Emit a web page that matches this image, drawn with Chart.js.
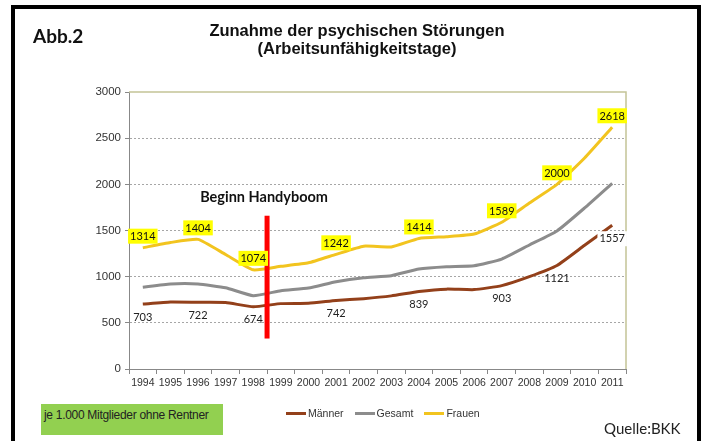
<!DOCTYPE html>
<html>
<head>
<meta charset="utf-8">
<script src="https://cdn.jsdelivr.net/npm/chart.js@4/dist/chart.umd.min.js"></script>
<style>
  body { margin: 0; background: #fff; }
  #wrap { position: relative; width: 702px; height: 441px; overflow: hidden; }
  #frame { position: absolute; left: 11px; top: 5px; width: 682px; height: 445px; border: 4px solid #000; }
  canvas { position: absolute; left: 0; top: 0; }
  .abb { position: absolute; left: 33px; top: 24px; font: bold 19px Lato, "Liberation Sans", sans-serif; color: #111; }
  .title { position: absolute; left: 157px; width: 400px; top: 21px; text-align: center;
           font: bold 16.5px "Liberation Sans", Arial, sans-serif; color: #111; line-height: 18px; }
  .note { position: absolute; left: 41px; top: 404px; width: 182px; height: 31px; background: #92d050;
          font: 12px "Liberation Sans", Arial, sans-serif; color: #222; box-sizing: border-box; padding: 4px 0 0 3px;
          letter-spacing: -0.3px; }
  .quelle { position: absolute; left: 604px; top: 419px; font: 15px Lato, sans-serif; color: #222; }
  #legend { position: absolute; left: 286px; top: 407px; font: 10.5px "Liberation Sans", Arial, sans-serif; color: #333; }
  #legend span.item { margin-right: 11px; }
  #legend i { display: inline-block; width: 20px; height: 3px; vertical-align: middle; margin-right: 2px; position: relative; top: -1px; }
</style>
</head>
<body>
<div id="wrap">
  <canvas id="mycanvas" width="702" height="441"></canvas>
  <div id="frame"></div>
  <div class="abb">Abb.2</div>
  <div class="title">Zunahme der psychischen Störungen<br>(Arbeitsunfähigkeitstage)</div>
  <div class="note">je 1.000 Mitglieder ohne Rentner</div>
  <div id="legend"></div>
  <div class="quelle">Quelle:BKK</div>
</div>
<script>
var years = ['1994','1995','1996','1997','1998','1999','2000','2001','2002','2003','2004','2005','2006','2007','2008','2009','2010','2011'];
var maenner = [703, 725, 722, 720, 674, 708, 712, 742, 762, 792, 839, 865, 860, 903, 1000, 1121, 1340, 1557];
var gesamt  = [885, 920, 920, 880, 794, 848, 877, 945, 989, 1011, 1083, 1108, 1119, 1191, 1343, 1495, 1744, 2011];
var frauen  = [1314, 1370, 1404, 1240, 1074, 1112, 1150, 1242, 1330, 1322, 1414, 1433, 1462, 1589, 1798, 2000, 2285, 2618];
var labelIdx = [0, 2, 4, 7, 10, 13, 15, 17];
var yTicks = [0, 500, 1000, 1500, 2000, 2500, 3000];
var handyboom = { text: 'Beginn Handyboom', from: 330, to: 1660, textY: 1860 };

var colMaenner = '#93401a', colGesamt = '#8c8c8c', colFrauen = '#f2c41f';

var extras = {
	id: 'extras',
	beforeDatasetsDraw: function(chart) {
		var c = chart.ctx, a = chart.chartArea;
		c.save();
		c.strokeStyle = '#c4c497';
		c.lineWidth = 1.5;
		c.beginPath();
		c.moveTo(a.left, a.top); c.lineTo(a.right, a.top); c.lineTo(a.right, a.bottom);
		c.stroke();
		c.restore();
	},
	afterDatasetsDraw: function(chart) {
		var c = chart.ctx, x = chart.scales.x, y = chart.scales.y;
		c.save();
		// rote Linie zwischen 1998 und 1999
		var xm = (x.getPixelForValue(4) + x.getPixelForValue(5)) / 2;
		c.strokeStyle = '#ff0000';
		c.lineWidth = 5;
		c.beginPath();
		c.moveTo(xm, y.getPixelForValue(handyboom.from));
		c.lineTo(xm, y.getPixelForValue(handyboom.to));
		c.stroke();
		c.fillStyle = '#111';
		c.font = 'bold 14.5px Lato, sans-serif';
		c.textAlign = 'center';
		c.textBaseline = 'middle';
		c.fillText(handyboom.text, xm - 3, y.getPixelForValue(handyboom.textY));

		c.font = '11px Lato, sans-serif';
		labelIdx.forEach(function(i) {
			var px = x.getPixelForValue(i);
			// Frauen oben, gelb hinterlegt
			var t = String(frauen[i]);
			var w = c.measureText(t).width;
			var py = y.getPixelForValue(frauen[i]) - 12;
			c.fillStyle = '#ffff00';
			c.fillRect(px - w / 2 - 2, py - 7, w + 4, 15);
			c.fillStyle = '#111';
			c.fillText(t, px, py + 1);
			// Maenner unten
			t = String(maenner[i]);
			w = c.measureText(t).width;
			py = y.getPixelForValue(maenner[i]) + 13;
			if (i === years.length - 1) {
				c.fillStyle = '#fff';
				c.fillRect(px - w / 2 - 2, py - 7, w + 4, 15);
			}
			c.fillStyle = '#222';
			c.fillText(t, px, py);
		});
		c.restore();
	}
};

var chartdata = {
	labels: years,
	datasets: [
		{ label: 'Männer', data: maenner, borderColor: colMaenner, backgroundColor: colMaenner },
		{ label: 'Gesamt', data: gesamt, borderColor: colGesamt, backgroundColor: colGesamt },
		{ label: 'Frauen', data: frauen, borderColor: colFrauen, backgroundColor: colFrauen }
	]
};

var linechart = new Chart(document.getElementById('mycanvas'), {
	type: 'line',
	data: chartdata,
	plugins: [extras],
	options: {
		responsive: false,
		animation: false,
		layout: { padding: { top: 92, right: 76, left: 0, bottom: 50 } },
		elements: {
			line: { borderWidth: 3, tension: 0.15 },
			point: { radius: 0 }
		},
		plugins: { legend: { display: false }, tooltip: { enabled: false } },
		scales: {
			x: {
				offset: true,
				afterFit: function(s) { s.height = 22; },
				grid: { drawOnChartArea: false, drawTicks: true, tickLength: 5, color: '#888', offset: true },
				border: { color: '#888', width: 1 },
				ticks: { color: '#333', font: { family: 'Liberation Sans', size: 10.5 }, maxRotation: 0, autoSkip: false, padding: 3 }
			},
			y: {
				min: 0, max: 3000,
				afterFit: function(s) { s.width = 129; },
				afterBuildTicks: function(s) { s.ticks = yTicks.map(function(v) { return { value: v }; }); },
				grid: { color: function(ctx) { return ctx.tick && ctx.tick.value === 3000 ? 'rgba(0,0,0,0)' : '#a6a6a6'; }, tickColor: '#888', tickLength: 4, lineWidth: 1 },
				border: { color: '#888', width: 1, dash: [2, 2] },
				ticks: { color: '#333', font: { family: 'Liberation Sans', size: 11.5 }, padding: 4,
					callback: function(v) { return String(v); } }
			}
		}
	}
});

var lg = document.getElementById('legend');
chartdata.datasets.forEach(function(d) {
	lg.innerHTML += '<span class="item"><i style="background:' + d.borderColor + '"></i>' + d.label + '</span>';
});
</script>
</body>
</html>
